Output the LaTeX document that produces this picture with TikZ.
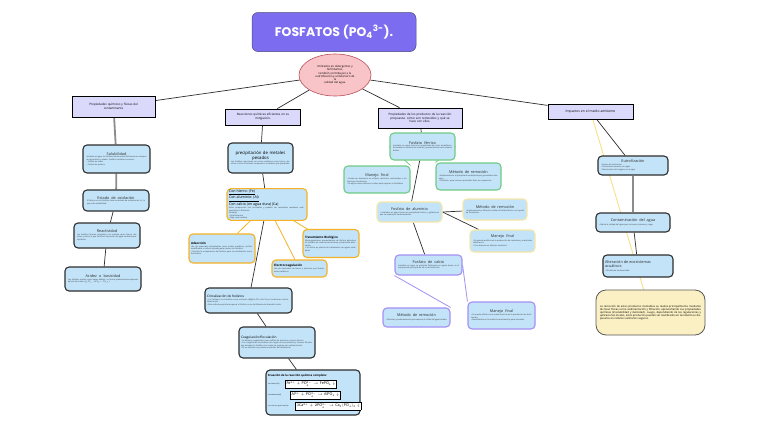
\RequirePackage{fix-cm}
\documentclass[tikz,border=0pt]{standalone}
\usepackage{fontspec}
\setmainfont{Open Sans}
\newfontfamily\popp{Poppins}
\usetikzlibrary{shapes.geometric,backgrounds}
\definecolor{catc}{HTML}{DAD8FB}
\definecolor{bluec}{HTML}{C3E3F8}
\definecolor{darkc}{HTML}{2E2E2E}
\definecolor{orangec}{HTML}{F5B228}
\definecolor{greenc}{HTML}{6FCB86}
\definecolor{ylwc}{HTML}{F6E7A6}
\definecolor{purpc}{HTML}{A390F3}
\definecolor{titlec}{HTML}{7C6CF0}
\definecolor{ellc}{HTML}{F8C4C7}
\definecolor{ellbd}{HTML}{B8505C}
\definecolor{yelfill}{HTML}{FBF0C3}
\definecolor{txtc}{HTML}{3A3A3A}
\definecolor{grayl}{HTML}{8C8C8C}
\definecolor{yline}{HTML}{F8E08A}
\newcommand\fixsp{\spaceskip=0pt\xspaceskip=0pt\relax}
\newcommand\fs[3]{{\fixsp\fontsize{#1}{#2}\selectfont\fixsp #3}}
\newcommand\hd[1]{{\fixsp\fontsize{3.8}{4.4}\selectfont\fixsp\color{darkc}#1}}
\newcommand\bd[2]{\parbox{#1}{\fixsp\fontsize{2}{2.5}\selectfont\fixsp\color{txtc}#2}}
\newcommand\eqb[1]{{\setlength\fboxsep{0.8pt}\setlength\fboxrule{0.7pt}\fcolorbox{black}{white}{\fontsize{3.7}{4.2}\selectfont$#1$}}}
\begin{document}
\begin{tikzpicture}[x=1pt,y=-1pt,
  cat/.style={draw=black, line width=0.7pt, fill=catc, inner sep=1pt, align=center, font=\fontsize{3}{3.7}\selectfont},
  bb/.style={rounded corners=4pt, fill=bluec, draw=darkc, line width=1.1pt, inner sep=1.2pt, align=center, font=\fontsize{3.8}{4.4}\selectfont},
  ob/.style={bb, draw=orangec},
  gb/.style={bb, draw=greenc},
  yb/.style={bb, draw=ylwc},
  pb/.style={bb, draw=purpc},
  wh/.style n args={3}{minimum width=#1pt, minimum height=#2pt, text width=#3pt},
  ln/.style={draw=darkc, line width=0.7pt},
  gln/.style={draw=grayl, line width=1.8pt},
  oln/.style={draw=orangec, line width=0.8pt},
  grl/.style={draw=greenc, line width=0.8pt},
  pl/.style={draw=purpc, line width=0.8pt},
  yl/.style={draw=yline, line width=0.9pt}]
\useasboundingbox (0,0) rectangle (768,431);
\begin{scope}[on background layer]
\fill[white] (0,0) rectangle (768,431);
\end{scope}
% title
\node[fill=titlec, draw=darkc!60!titlec, line width=0.5pt, rounded corners=6pt, minimum width=164pt, minimum height=39pt, text=white, font=\popp\bfseries\fontsize{12.5}{14}\selectfont] (title) at (334,32) {FOSFATOS (PO\textsubscript{4}\textsuperscript{3-}).};
\node[ellipse, fill=ellc, draw=ellbd, line width=0.6pt, minimum width=72pt, minimum height=42pt, inner sep=0pt, align=center, font=\fontsize{2.8}{3.3}\selectfont] (ell) at (335,75) {Utilizados en detergentes y\\ fertilizantes,\\ también contribuyen a la\\ eutrofización y al deterioro de\\ la\\ calidad del agua.};
% categories
\node[cat, wh={83}{21}{79}] (b1) at (113.5,106.5) {Propiedades químicos y físicas del\\ contaminante};
\node[cat, wh={75}{16}{71}] (b2) at (263,117) {Reacciones químicas eficientes en su\\ mitigación.};
\node[cat, wh={84}{20}{80}] (b3) at (420,118) {Propiedades de los productos de la reacción\\ propuesta: cómo son removidos y qué se\\ hace con ellos.};
\node[cat, wh={85}{15}{81}, font=\fontsize{3.3}{4}\selectfont] (b4) at (590.5,111.5) {Impactos en el medio ambiente};
% column 1
\node[bb, wh={67}{28}{63}] (sol) at (116.5,159) {\hd{Solubilidad}\\ \bd{60pt}{Solubles en agua: los fosfatos se disuelven fácilmente en cuerpos de agua dulce y salada. Fosfatos solubles comunes:\\ \textbullet\ Fosfato de sodio\\ \textbullet\ Fosfato de potasio}};
\node[bb, wh={66}{21}{62}] (est) at (116,200.5) {\hd{Estado de oxidación}\\ \bd{58pt}{El fósforo en los fosfatos tiene un estado de oxidación de +5, lo que le da estabilidad.}};
\node[bb, wh={66}{25}{62}] (rea) at (107,235.5) {\hd{Reactividad}\\ \bd{60pt}{Los fosfatos forman complejos con metales como hierro, aluminio y calcio, lo que facilita su remoción del agua mediante precipitación.}};
\node[bb, wh={76}{24}{72}] (aci) at (103,279) {\hd{Acidez o basicidad}\\ \bd{70pt}{Los fosfatos actúan como bases débiles; su forma predominante depende del pH del medio (H\textsubscript{2}PO\textsubscript{4}\textsuperscript{−}, HPO\textsubscript{4}\textsuperscript{2−}, PO\textsubscript{4}\textsuperscript{3−}).}};
% column 2
\node[bb, wh={65}{30}{61}, font=\fontsize{4.3}{5}\selectfont] (prec) at (260.5,158) {\fs{4.3}{5}{precipitación de metales\\ pesados}\\ \bd{59pt}{Los fosfatos reaccionan con iones metálicos como hierro, aluminio o calcio formando compuestos insolubles que precipitan.}};
\node[ob, wh={80}{29}{76}, align=left, font=\fontsize{3.6}{4.2}\selectfont] (fe) at (267,204.5) {\fs{3.6}{4.2}{\underline{Con hierro: (Fe)}\\ \underline{Con aluminio: (Al)}\\ Con calcio (en agua dura) (Ca)}\\ \bd{75pt}{Estos compuestos son insolubles y pueden ser removidos mediante sedimentación o filtración.\\ Ventajas:\\ \textbullet\ Alta eficiencia\\ \textbullet\ Bajo costo relativo}};
\node[ob, wh={66}{29}{62}, align=left] (ads) at (222,248.5) {\fs{3}{3.6}{\bfseries Adsorción}\\ \bd{61pt}{Uso de materiales adsorbentes como óxidos metálicos, arcillas modificadas o carbón activado para retener los fosfatos.\\ \textbullet\ Permite la recuperación del fósforo para su reutilización como fertilizante.}};
\node[ob, wh={56}{28}{52}, align=left] (trat) at (331,243.5) {\fs{3}{3.6}{\bfseries Tratamiento Biológico}\\ \bd{51pt}{Microorganismos acumuladores de fósforo absorben los fosfatos en condiciones aerobias y anaerobias alternadas.\\ \textbullet\ Se utiliza en plantas de tratamiento de aguas residuales.}};
\node[ob, wh={55}{17}{51}, align=left] (elec) at (299.5,268.5) {\fs{3}{3.6}{\bfseries Electrocoagulación}\\ \bd{50pt}{Uso de electrodos de hierro o aluminio que liberan iones metálicos.}};
\node[bb, wh={87}{25}{83}, align=left] (cri) at (248.5,300.5) {\fs{3.2}{3.8}{Cristalización de fosfatos}\\ \bd{82pt}{\textbullet\ Los fosfatos se cristalizan como estruvita (MgNH\textsubscript{4}PO\textsubscript{4}·6H\textsubscript{2}O) en condiciones controladas de pH.\\ \textbullet\ Este método permite recuperar el fósforo como fertilizante de liberación lenta.}};
\node[bb, wh={76}{31}{72}, align=left] (col) at (277,342.5) {\fs{3.2}{3.8}{Coagulación/floculación}\\ \bd{71pt}{\textbullet\ Se añaden coagulantes como sulfato de aluminio o cloruro férrico.\\ \textbullet\ Los coagulantes neutralizan las cargas de las partículas y forman flóculos que atrapan los fosfatos, los cuales se separan por sedimentación.\\ \textbullet\ Es un método muy usado en plantas de tratamiento.}};
\node[bb, wh={94}{45}{90}, align=left, font=\fontsize{3.6}{4.4}\selectfont] (eq) at (313,392.5) {\fs{2.8}{3.4}{\bfseries Ecuación de la reacción química completa:}\\[1.5pt]
\makebox[17pt][l]{\fs{1.7}{2}{con hierro (Fe)}}\eqb{\mathrm{Fe}^{3+}+\mathrm{PO}_4^{3-}\rightarrow\mathrm{FePO}_4\downarrow}\\[1.5pt]
\makebox[22pt][l]{\fs{1.7}{2}{con aluminio (Al)}}\eqb{\mathrm{Al}^{3+}+\mathrm{PO}_4^{3-}\rightarrow\mathrm{AlPO}_4\downarrow}\\[1.5pt]
\makebox[27pt][l]{\fs{1.5}{2}{con calcio (en agua dura) (Ca)}}\eqb{3\mathrm{Ca}^{2+}+2\mathrm{PO}_4^{3-}\rightarrow\mathrm{Ca}_3(\mathrm{PO}_4)_2\downarrow}};
% column 3
\node[gb, wh={65}{27}{61}] (fer) at (422.5,146.5) {\hd{Fosfato férrico}\\ \bd{59pt}{Insoluble en agua, forma un precipitado de color amarillento. Es estable en condiciones neutras y puede disolverse en medios ácidos.}};
\node[gb, wh={66}{27}{62}] (man1) at (377,179.5) {\hd{Manejo final}\\ \bd{60pt}{\textbullet\ Puede ser dispuesto en rellenos sanitarios controlados o utilizarse en la industria.\\ \textbullet\ Se aplica como aditivo en suelos para mejorar su fertilidad.}};
\node[gb, wh={65}{27}{61}] (met1) at (468.5,176.5) {\hd{Método de remoción}\\ \bd{59pt}{\textbullet\ Sedimentación: el precipitado se deposita por gravedad en tanques.\\ \textbullet\ Filtración: para remover partículas finas en suspensión.}};
\node[yb, wh={65}{20}{61}] (alu) at (409.5,212) {\hd{Fosfato de aluminio}\\ \bd{59pt}{\textbullet\ Insoluble en agua, forma un precipitado blanco y gelatinoso que se separa por sedimentación.}};
\node[yb, wh={64}{21}{60}] (met2) at (495,209.5) {\hd{Método de remoción}\\ \bd{58pt}{\textbullet\ Sedimentación y filtración, similar al fosfato férrico, con ayuda de floculantes.}};
\node[yb, wh={65}{22}{61}] (man2) at (502.5,241) {\hd{Manejo final}\\ \bd{59pt}{\textbullet\ Se puede reutilizar en la producción de cerámicas y materiales refractarios.\\ \textbullet\ O se dispone en rellenos sanitarios.}};
\node[pb, wh={67}{20}{63}] (cal) at (428.5,265) {\hd{Fosfato de calcio}\\ \bd{61pt}{Insoluble en agua, se precipita fácilmente en aguas duras; es el componente principal de las rocas fosfóricas.}};
\node[pb, wh={67}{19}{63}] (met3) at (416.5,317.5) {\hd{Método de remoción}\\ \bd{61pt}{\textbullet\ Filtración y sedimentación para separar el sólido del agua tratada.}};
\node[pb, wh={67}{27}{63}] (man3) at (501.5,315.5) {\hd{Manejo final}\\ \bd{61pt}{\textbullet\ Se puede utilizar como materia prima en la producción de fertilizantes.\\ \textbullet\ Reutilización en la industria de alimentos para animales.}};
% column 4
\node[bb, wh={70}{19}{66}] (eut) at (633,165.5) {\hd{Eutrofización}\\ \bd{64pt}{\textbullet\ Exceso de nutrientes.\\ \textbullet\ Crecimiento excesivo de algas.\\ \textbullet\ Disminución del oxígeno en el agua.}};
\node[bb, wh={74}{19}{70}] (con) at (633,222.5) {\hd{Contaminación del agua}\\ \bd{68pt}{\textbullet\ Afecta la calidad del agua para consumo humano y riego.}};
\node[bb, wh={70}{22}{66}, align=left] (alt) at (638,266) {\hd{Alteración de ecosistemas\\ acuáticos}\\ \bd{64pt}{\textbullet\ Pérdida de biodiversidad.}};
\node[fill=yelfill, draw=darkc!80, line width=0.8pt, rounded corners=10pt, minimum width=109pt, minimum height=45pt, text width=101pt, align=justify, font=\fontsize{2.7}{3.1}\selectfont] (yel) at (650.5,312.5) {La remoción de estos productos insolubles se realiza principalmente mediante técnicas físicas como sedimentación y filtración, aprovechando sus propiedades químicas (insolubilidad y densidad). Luego, dependiendo de las regulaciones y aplicaciones locales, estos productos pueden ser reutilizados en la industria o dispuestos en rellenos sanitarios seguros.};
% connectors
\begin{scope}[on background layer]
\draw[ln] (ell) -- (b1);
\draw[ln] (ell) -- (b2);
\draw[ln] (ell) -- (b3);
\draw[ln] (ell) -- (b4);
\draw[gln] (b1) -- (sol);
\draw[gln] (sol) -- (est);
\draw[ln] (est) -- (rea);
\draw[ln] (rea) -- (aci);
\draw[ln] (b2) -- (prec);
\draw[ln] (prec) -- (fe);
\draw[oln] (fe) -- (ads);
\draw[oln] (fe) -- (elec);
\draw[oln] (fe) -- (trat);
\draw[ln] (fe) -- (cri);
\draw[ln] (cri) -- (col);
\draw[ln] (col) -- (eq);
\draw[ln] (b3) -- (fer);
\draw[grl] (fer.west) -- (man1.north east);
\draw[grl] (fer.east) -- (met1.north west);
\draw[ln] (fer) -- (alu);
\draw[ln] (alu.east) -- (met2);
\draw[ln] (alu.east) -- (man2);
\draw[ln] (alu) -- (cal);
\draw[pl] (cal.south west) -- (met3.north east);
\draw[pl] (cal.east) -- (man3.north west);
\draw[ln] (b4) -- (eut);
\draw[gln] (eut) -- (con);
\draw[ln] (con) -- (alt);
\draw[yl] (b4) -- (yel);
\end{scope}
\end{tikzpicture}
\end{document}
